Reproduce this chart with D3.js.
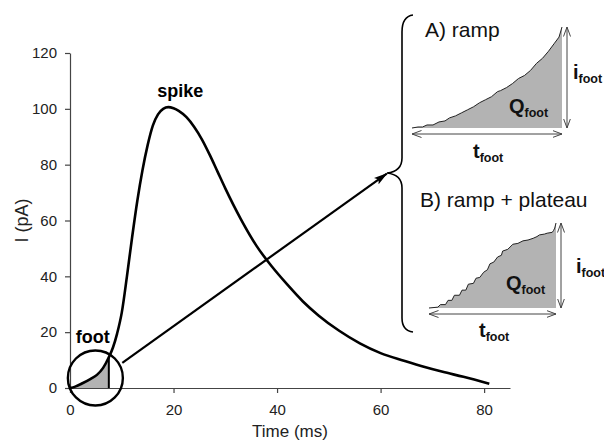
<!DOCTYPE html>
<html>
<head>
<meta charset="utf-8">
<script src="https://cdn.jsdelivr.net/npm/d3@7"></script>
<style>
  body { margin: 0; background: #fff; }
  svg { display: block; font-family: "Liberation Sans", Arial, Helvetica, sans-serif; }
  .axis path, .axis line { stroke: #444; stroke-width: 1.2; }
  .axis text { font-size: 15px; fill: #222; font-family: "Liberation Sans", Arial, sans-serif; }
</style>
</head>
<body>
<script>
// main current trace
const traceTime = [0, 1, 2.5, 4, 5.2, 6.4, 7.5, 8.3, 9.1, 10, 11, 12, 13, 14, 15, 16, 17, 18, 19, 20, 21, 22.5, 24, 25.5, 27, 28.5, 30, 33, 36, 39, 42, 45, 48, 52, 56, 60, 64, 68, 72, 76, 81];
const traceCurrent = [0, 0.5, 1.8, 3.3, 4.7, 7.2, 11, 14.5, 19.5, 27, 40, 54, 67, 78, 87, 94, 98, 100, 100.6, 100.2, 99.3, 97, 93.5, 89, 83.5, 77.5, 71.5, 60.5, 51, 43.5, 37, 31, 26, 20.5, 16, 12.5, 10, 7.8, 5.8, 4, 1.5];
const footEnd = 7.5;

const xTicks = [0, 20, 40, 60, 80];
const yTicks = [0, 20, 40, 60, 80, 100, 120];

// inset A (ramp), normalised time / current
const rampTime = [0, .04, .07, .1, .14, .18, .22, .25, .29, .33, .37, .41, .45, .49, .53, .57, .59, .63, .67, .71, .75, .79, .83, .87, .91, .95, .98, 1];
const rampCurrent = [0, .01, .01, .03, .03, .06, .07, .10, .12, .15, .18, .21, .25, .28, .31, .36, .37, .40, .44, .49, .52, .57, .64, .69, .76, .84, .90, 1];

// inset B (ramp + plateau)
const plateauTime = [0, .07, .09, .13, .15, .18, .20, .24, .26, .29, .31, .35, .37, .40, .43, .46, .48, .51, .54, .57, .58, .62, .66, .70, .74, .78, .82, .85, .87, .91, .93, .97, .98, .99, 1];
const plateauCurrent = [0, .01, .04, .04, .09, .09, .15, .15, .21, .21, .28, .29, .35, .36, .42, .45, .52, .54, .60, .62, .67, .69, .75, .76, .79, .80, .82, .84, .86, .87, .88, .89, .91, .94, 1];

const width = 604;
const height = 442;

const svg = d3.select("body").append("svg")
    .attr("width", width)
    .attr("height", height);

const defs = svg.append("defs");
defs.append("marker")
    .attr("id", "bigHead")
    .attr("viewBox", "0 0 14 8")
    .attr("refX", 13).attr("refY", 4)
    .attr("markerWidth", 14).attr("markerHeight", 8)
    .attr("markerUnits", "userSpaceOnUse")
    .attr("orient", "auto")
    .append("path").attr("d", "M0,0 L14,4 L0,8 L3,4 Z").attr("fill", "#000");
defs.append("marker")
    .attr("id", "thinHead")
    .attr("viewBox", "0 0 10 8")
    .attr("refX", 9.5).attr("refY", 4)
    .attr("markerWidth", 10).attr("markerHeight", 8)
    .attr("markerUnits", "userSpaceOnUse")
    .attr("orient", "auto-start-reverse")
    .append("path").attr("d", "M0,0.5 L9.5,4 L0,7.5").attr("fill", "none").attr("stroke", "#444").attr("stroke-width", 1);

// scales
const x = d3.scaleLinear().domain([0, 85]).range([70, 510]);
const y = d3.scaleLinear().domain([0, 120]).range([388, 53]);

svg.append("g")
    .attr("class", "axis")
    .attr("transform", `translate(0,${y(0)})`)
    .call(d3.axisBottom(x).tickValues(xTicks).tickSize(5).tickSizeOuter(0).tickPadding(11));

svg.append("g")
    .attr("class", "axis")
    .attr("transform", `translate(${x(0)},0)`)
    .call(d3.axisLeft(y).tickValues(yTicks).tickSize(5).tickSizeOuter(0).tickPadding(8));

svg.append("text")
    .attr("x", x(42.5)).attr("y", 437)
    .attr("text-anchor", "middle")
    .attr("font-size", 17).attr("fill", "#222")
    .text("Time (ms)");

svg.append("text")
    .attr("transform", `translate(28,${y(60)}) rotate(-90)`)
    .attr("text-anchor", "middle")
    .attr("font-size", 18).attr("fill", "#222")
    .text("I (pA)");

const trace = traceTime.map((t, i) => ({ t: t, v: traceCurrent[i] }));
const curve = d3.curveMonotoneX;

// shaded foot
const footData = trace.filter(d => d.t <= footEnd);
svg.append("path")
    .datum(footData)
    .attr("fill", "#b3b3b3")
    .attr("d", d3.area().x(d => x(d.t)).y0(y(0)).y1(d => y(d.v)).curve(curve));

svg.append("line")
    .attr("x1", x(footEnd)).attr("x2", x(footEnd))
    .attr("y1", y(0)).attr("y2", y(footData[footData.length - 1].v))
    .attr("stroke", "#000").attr("stroke-width", 2);

svg.append("path")
    .datum(trace)
    .attr("fill", "none")
    .attr("stroke", "#000")
    .attr("stroke-width", 2.6)
    .attr("stroke-linejoin", "round")
    .attr("d", d3.line().x(d => x(d.t)).y(d => y(d.v)).curve(curve));

// circle around the foot
svg.append("circle")
    .attr("cx", x(4.9)).attr("cy", y(3.6)).attr("r", 27.5)
    .attr("fill", "none").attr("stroke", "#000").attr("stroke-width", 2.4);

svg.append("line")
    .attr("x1", x(10.1)).attr("y1", y(9))
    .attr("x2", x(61.2)).attr("y2", y(76.8))
    .attr("stroke", "#000").attr("stroke-width", 2.2)
    .attr("marker-end", "url(#bigHead)");

svg.append("text")
    .attr("x", x(21.3)).attr("y", y(104.3))
    .attr("text-anchor", "middle")
    .attr("font-size", 18).attr("font-weight", "bold")
    .text("spike");

svg.append("text")
    .attr("x", x(4.4)).attr("y", y(16.1))
    .attr("text-anchor", "middle")
    .attr("font-size", 18).attr("font-weight", "bold")
    .text("foot");

// curly brace
svg.append("path")
    .attr("d", "M413,15 C405,16 402,22 402,32 L402,158 C402,167 396,172 387,173 C396,174 402,179 402,188 L402,318 C402,326 405,331 413,332")
    .attr("fill", "none").attr("stroke", "#000").attr("stroke-width", 1.6);

function subLabel(g, px, py, main, sub) {
    const t = g.append("text")
        .attr("x", px).attr("y", py)
        .attr("font-weight", "bold").attr("fill", "#111");
    t.append("tspan").attr("font-size", 20).text(main);
    t.append("tspan").attr("font-size", 12.5).attr("dy", 4).text(sub);
}

function drawInset(times, currents, x0, x1, yBase, yTop, title, titleY, labels) {
    const g = svg.append("g");
    const sx = d3.scaleLinear().domain([0, 1]).range([x0, x1]);
    const sy = d3.scaleLinear().domain([0, 1]).range([yBase, yTop]);
    const pts = times.map((t, i) => ({ t: t, v: currents[i] }));

    g.append("path")
        .datum(pts)
        .attr("fill", "#b3b3b3")
        .attr("d", d3.area().x(d => sx(d.t)).y0(sy(0)).y1(d => sy(d.v)));
    g.append("path")
        .datum(pts)
        .attr("fill", "none").attr("stroke", "#222").attr("stroke-width", 1)
        .attr("d", d3.line().x(d => sx(d.t)).y(d => sy(d.v)));

    // t_foot and i_foot arrows
    g.append("line")
        .attr("x1", sx(0)).attr("x2", sx(1))
        .attr("y1", sy(0) + 6).attr("y2", sy(0) + 6)
        .attr("stroke", "#444").attr("stroke-width", 1)
        .attr("marker-start", "url(#thinHead)").attr("marker-end", "url(#thinHead)");
    g.append("line")
        .attr("x1", sx(1) + 5).attr("x2", sx(1) + 5)
        .attr("y1", sy(0)).attr("y2", sy(1))
        .attr("stroke", "#444").attr("stroke-width", 1)
        .attr("marker-start", "url(#thinHead)").attr("marker-end", "url(#thinHead)");

    g.append("text")
        .attr("x", title[0]).attr("y", titleY)
        .attr("font-size", 21).attr("fill", "#111")
        .text(title[1]);

    subLabel(g, labels.i[0], labels.i[1], "i", "foot");
    subLabel(g, labels.q[0], labels.q[1], "Q", "foot");
    subLabel(g, labels.t[0], labels.t[1], "t", "foot");
}

drawInset(rampTime, rampCurrent, 412, 562, 128, 27, [425, "A) ramp"], 37,
    { i: [573, 79], q: [509, 113], t: [473, 158] });
drawInset(plateauTime, plateauCurrent, 429, 556, 308, 223, [420, "B) ramp + plateau"], 207,
    { i: [576, 273], q: [506, 290], t: [479, 337] });
</script>
</body>
</html>
